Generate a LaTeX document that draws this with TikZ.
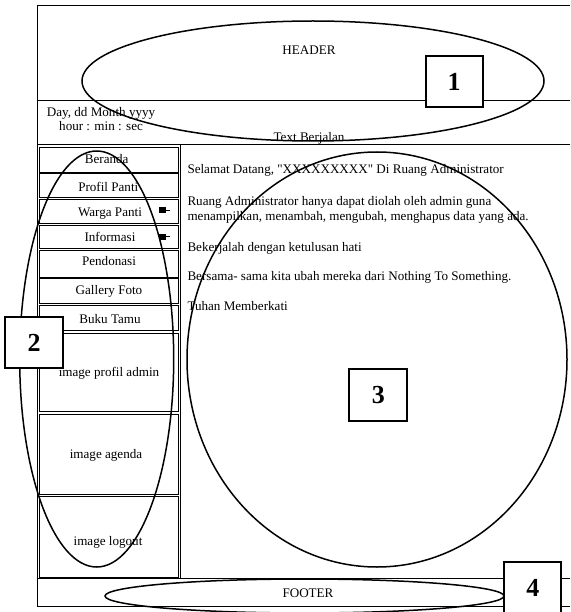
\documentclass[tikz,border=0pt]{standalone}
\usepackage{fontspec}
\setmainfont{Liberation Serif}[Ligatures=TeXOff]
\begin{document}
\begin{tikzpicture}[x=1pt,y=-1pt,
  frame/.style={line width=1pt},
  navbox/.style={draw,line width=0.9pt,anchor=north west,inner sep=0pt,minimum width=138.7pt},
  numbox/.style={draw,line width=2pt,fill=white,inner sep=0pt,minimum width=57pt,minimum height=51.6pt,font=\fontsize{26}{28}\selectfont\bfseries},
  txt/.style={inner sep=0pt,font=\fontsize{13.1}{15}\selectfont,text height=10pt,text depth=0pt},
  oval/.style={line width=1.5pt},
  flagicon/.style={fill=black}
]
\useasboundingbox (0,0) rectangle (570,612);
% frame
\draw[frame] (570,5.3) -- (37.3,5.3) -- (37.3,606) -- (570,606);
\draw[frame] (37.3,101) -- (570,101);
\draw[frame] (37.3,145) -- (570,145);
\draw[frame] (180,145) -- (180,578.3);
\draw[frame] (37.3,578.3) -- (570,578.3);
% nav boxes
\node[navbox,minimum height=24.4pt] (b1) at (39,147.3) {};
\node[navbox,minimum height=24pt] (b2) at (39,173.3) {};
\node[navbox,minimum height=24pt] (b3) at (39,199.3) {};
\node[navbox,minimum height=23pt] (b4) at (39,225.3) {};
\node[navbox,minimum height=26.4pt] (b5) at (39,250.3) {};
\node[navbox,minimum height=25pt] (b6) at (39,278.3) {};
\node[navbox,minimum height=24.7pt] (b7) at (39,305.3) {};
\node[navbox,minimum height=77.7pt] (b8) at (39,333.3) {};
\node[navbox,minimum height=79.4pt] (b9) at (39,414.3) {};
\node[navbox,minimum height=80.7pt] (b10) at (39,496) {};
% nav texts
\node[txt] (t1) at (106.7,158.3) {Beranda};
\node[txt] (t2) at (108.3,186.7) {Profil Panti};
\node[txt] (t3) at (110,211) {Warga Panti};
\node[txt] (t4) at (110,236) {Informasi};
\node[txt] (t5) at (109,260.7) {Pendonasi};
\node[txt] (t6) at (109,289.3) {Gallery Foto};
\node[txt] (t7) at (110,318.3) {Buku Tamu};
\node[txt] (t8) at (109,371.7) {image profil admin};
\node[txt] (t9) at (106,453.3) {image agenda};
\node[txt] (t10) at (108,540) {image logout};
% flag icons
\fill[flagicon] (158.5,207.5) rectangle (165.5,213.5);
\draw[line width=0.8pt] (165,210.5) -- (170,210.5);
\fill[flagicon] (158.5,233.8) rectangle (165.5,239.8);
\draw[line width=0.8pt] (165,236.8) -- (170,236.8);
% header texts
\node[txt] (hd) at (309,50) {HEADER};
\node[txt,anchor=west] (day) at (46.7,112) {Day, dd Month yyyy};
\node[txt,anchor=west] (hour) at (59,125.7) {hour : min : sec};
\node[txt] (run) at (309,137) {Text Berjalan};
% content
\node[txt,anchor=west] (c1) at (187.3,169) {Selamat Datang, "XXXXXXXXX" Di Ruang Administrator};
\node[txt,anchor=west] (c2) at (187.3,201) {Ruang Administrator hanya dapat diolah oleh admin guna};
\node[txt,anchor=west] (c3) at (187.3,216) {menampilkan, menambah, mengubah, menghapus data yang ada.};
\node[txt,anchor=west] (c4) at (187.3,246) {Bekerjalah dengan ketulusan hati};
\node[txt,anchor=west] (c5) at (187.3,275.7) {Bersama- sama kita ubah mereka dari Nothing To Something.};
\node[txt,anchor=west] (c6) at (187.3,305.7) {Tuhan Memberkati};
% footer
\node[txt] (ft) at (308,592) {FOOTER};
% ovals
\draw[oval] (313,81) ellipse [x radius=231, y radius=60];
\draw[oval] (96.7,359) ellipse [x radius=77, y radius=208];
\draw[oval] (377,359.5) ellipse [x radius=190, y radius=207.5];
\draw[oval] (304.5,596) ellipse [x radius=199.5, y radius=17];
% number boxes
\node[numbox] (n1) at (454.2,81.5) {1};
\node[numbox,minimum width=58.3pt] (n2) at (34.2,342.5) {2};
\node[numbox,minimum width=58pt] (n3) at (378.3,395.2) {3};
\node[numbox] (n4) at (532.8,587.8) {4};
\end{tikzpicture}
\end{document}
